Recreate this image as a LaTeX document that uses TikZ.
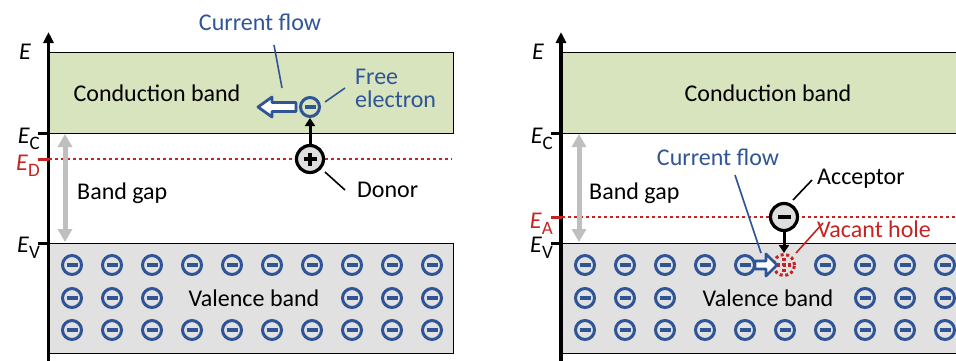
\documentclass[tikz,border=0pt]{standalone}
\usepackage{fontspec}
\setmainfont{Carlito}
\usetikzlibrary{arrows.meta}
\definecolor{eblue}{RGB}{47,85,151}
\definecolor{ered}{RGB}{200,35,35}
\definecolor{cbgreen}{RGB}{216,228,189}
\definecolor{vbgray}{RGB}{225,225,225}
\definecolor{gapgray}{RGB}{191,191,191}
\definecolor{ionfill}{RGB}{222,222,222}
\newcommand\lvl[2]{\textit{#1}\raisebox{-0.5ex}{\fontsize{19}{19}\selectfont #2}}
\begin{document}
\begin{tikzpicture}[x=1pt,y=-1pt,font=\fontsize{24}{24}\selectfont,
  txt/.style={inner sep=0pt},
  bandbox/.style={draw=black,line width=1.3},
  axisline/.style={line width=3.2,-{Triangle[width=10,length=11]}},
  tick/.style={line width=3},
  gaparrow/.style={gapgray,line width=5,{Triangle[width=14,length=13]}-{Triangle[width=14,length=13]}},
  level/.style={ered,line width=2.8,dash pattern=on 2.8pt off 3.2pt},
  elec/.style={circle,draw=eblue,line width=3,minimum size=19,inner sep=0pt,
    path picture={\draw[eblue,line width=3.4] ([xshift=-5.5]path picture bounding box.center) -- ([xshift=5.5]path picture bounding box.center);}},
  ion/.style={circle,draw=black,fill=ionfill,line width=3.2,minimum size=27,inner sep=0pt},
  plussign/.style={path picture={\draw[black,line width=3.2] ([xshift=-6.5]path picture bounding box.center) -- ([xshift=6.5]path picture bounding box.center) ([yshift=-6.5]path picture bounding box.center) -- ([yshift=6.5]path picture bounding box.center);}},
  minussign/.style={path picture={\draw[black,line width=3.4] ([xshift=-6.5]path picture bounding box.center) -- ([xshift=6.5]path picture bounding box.center);}},
  hole/.style={circle,draw=ered,line width=3,dash pattern=on 3pt off 2.6pt,minimum size=21,inner sep=0pt,
    path picture={\draw[ered,line width=3.4] ([xshift=-7]path picture bounding box.center) -- ([xshift=7]path picture bounding box.center) ([yshift=-7]path picture bounding box.center) -- ([yshift=7]path picture bounding box.center);}},
  jump/.style={black,line width=3,-{Triangle[width=10,length=8]}},
  leader/.style={line width=1.6},
  hollow/.style={draw=eblue,fill=white,line width=2.8,line join=round}
]
\path[use as bounding box] (0,0) rectangle (956,360);
\clip (0,0) rectangle (956,360);

%================ LEFT PANEL (n-type) ================
\fill[white] (0,0) rectangle (956,360);
\node[bandbox,fill=cbgreen,minimum width=404,minimum height=81,anchor=north west,inner sep=0pt] (cbL) at (49,52) {};
\node[bandbox,fill=vbgray,minimum width=404,minimum height=110,anchor=north west,inner sep=0pt] (vbL) at (49,243) {};
\coordinate (axLb) at (48.5,365);
\coordinate (axLt) at (48.5,32);
\draw[axisline] (axLb) -- (axLt);
\coordinate (tcL) at (38,133); \coordinate (tcLa) at (49,133);
\coordinate (tvL) at (38,243); \coordinate (tvLa) at (49,243);
\draw[tick] (tcL) -- (tcLa);
\draw[tick] (tvL) -- (tvLa);
\coordinate (tdL) at (38,159); \coordinate (tdLa) at (49,159); \coordinate (tdLe) at (452,159);
\draw[tick,ered] (tdL) -- (tdLa);
\draw[level] (tdLa) -- (tdLe);
\node[txt] (EL) at (25,52) {\textit{E}};
\node[txt,anchor=east] (ECL) at (40,139) {\lvl{E}{C}};
\node[txt,anchor=east,text=ered] (EDL) at (40,166) {\lvl{E}{D}};
\node[txt,anchor=east] (EVL) at (40,248) {\lvl{E}{V}};
\coordinate (gLt) at (65,134); \coordinate (gLb) at (65,242);
\draw[gaparrow] (gLt) -- (gLb);
\node[txt,anchor=west] (bgL) at (77,193) {Band gap};
\node[txt] (cbtL) at (157,93) {Conduction band};
\node[txt] (vbtL) at (254,298) {Valence band};
% electrons
\foreach \i in {0,...,9} \node[elec] (L1-\i) at ({72+40*\i},265) {};
\foreach \i in {0,1,2,7,8,9} \node[elec] (L2-\i) at ({72+40*\i},298) {};
\foreach \i in {0,...,9} \node[elec] (L3-\i) at ({72+40*\i},330) {};
% donor and free electron
\node[ion,plussign] (donor) at (310,159) {};
\node[elec] (fe) at (310,107) {};
\draw[jump] (donor) -- (fe);
\draw[hollow] (258,107) -- (272,97) -- (272,102.5) -- (296,102.5) -- (296,111.5) -- (272,111.5) -- (272,117) -- cycle;
\node[txt,text=eblue] (cfL) at (260,22) {Current flow};
\node[txt,text=eblue,align=left,anchor=west] (feL) at (355,88) {Free\\[-1pt]electron};
\node[txt,anchor=west] (donL) at (357,190) {Donor};
\coordinate (cfLa) at (274,45); \coordinate (cfLb) at (282,88);
\draw[leader,eblue] (cfLa) -- (cfLb);
\coordinate (feLa) at (345,88); \coordinate (feLb) at (325,102);
\draw[leader,eblue] (feLa) -- (feLb);
\coordinate (donLa) at (345,190); \coordinate (donLb) at (325,172);
\draw[leader] (donLa) -- (donLb);

%================ RIGHT PANEL (p-type) ================
\node[bandbox,fill=cbgreen,minimum width=410,minimum height=81,anchor=north west,inner sep=0pt] (cbR) at (561,52) {};
\node[bandbox,fill=vbgray,minimum width=410,minimum height=110,anchor=north west,inner sep=0pt] (vbR) at (561,243) {};
\coordinate (axRb) at (561,365);
\coordinate (axRt) at (561,32);
\draw[axisline] (axRb) -- (axRt);
\coordinate (tcR) at (551,133); \coordinate (tcRa) at (562,133);
\coordinate (tvR) at (551,243); \coordinate (tvRa) at (562,243);
\draw[tick] (tcR) -- (tcRa);
\draw[tick] (tvR) -- (tvRa);
\coordinate (taR) at (551,217); \coordinate (taRa) at (562,217); \coordinate (taRe) at (960,217);
\draw[tick,ered] (taR) -- (taRa);
\draw[level] (taRa) -- (taRe);
\node[txt] (ER) at (538,52) {\textit{E}};
\node[txt,anchor=east] (ECR) at (553,139) {\lvl{E}{C}};
\node[txt,anchor=east,text=ered] (EAR) at (553,224) {\lvl{E}{A}};
\node[txt,anchor=east] (EVR) at (553,248) {\lvl{E}{V}};
\coordinate (gRt) at (579,134); \coordinate (gRb) at (579,242);
\draw[gaparrow] (gRt) -- (gRb);
\node[txt,anchor=west] (bgR) at (589,193) {Band gap};
\node[txt] (cbtR) at (768,93) {Conduction band};
\node[txt] (vbtR) at (768,298) {Valence band};
% electrons
\foreach \i in {0,1,2,3,4,6,7,8,9} \node[elec] (R1-\i) at ({585+40*\i},265) {};
\foreach \i in {0,1,2,7,8,9} \node[elec] (R2-\i) at ({585+40*\i},298) {};
\foreach \i in {0,...,9} \node[elec] (R3-\i) at ({585+40*\i},330) {};
% acceptor and hole
\node[ion,minussign] (acc) at (784,217) {};
\node[hole] (hl) at (784,265) {};
\draw[jump] (acc) -- (hl);
\draw[hollow] (755,261) -- (766,261) -- (766,254) -- (777,265) -- (766,276) -- (766,269) -- (755,269) -- cycle;
\node[txt,text=eblue] (cfR) at (718,157) {Current flow};
\node[txt,anchor=west] (accL) at (817,179) {Acceptor};
\node[txt,anchor=west,text=ered] (vhL) at (817,229) {Vacant hole};
\coordinate (cfRa) at (735,175); \coordinate (cfRb) at (761,253);
\draw[leader,eblue] (cfRa) -- (cfRb);
\coordinate (accLa) at (812,180); \coordinate (accLb) at (793,200);
\draw[leader] (accLa) -- (accLb);
\coordinate (vhLa) at (823,223); \coordinate (vhLb) at (796,253);
\draw[leader,ered] (vhLa) -- (vhLb);
\end{tikzpicture}
\end{document}
